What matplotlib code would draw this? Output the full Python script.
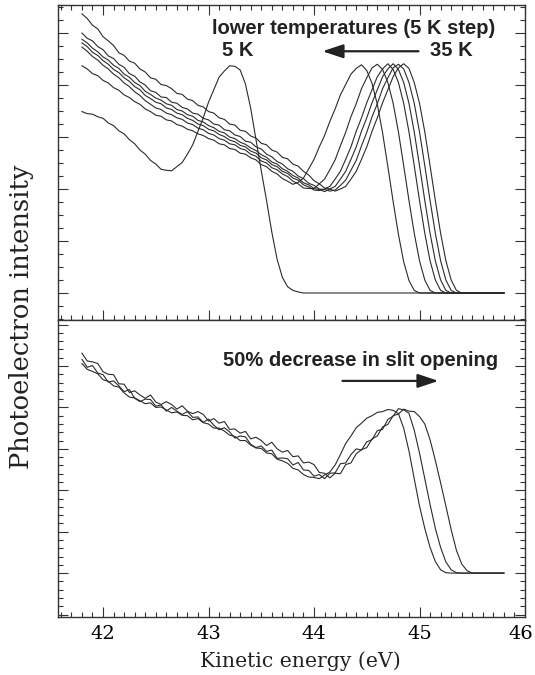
import numpy as np
import matplotlib.pyplot as plt
import matplotlib.transforms as mtransforms
from matplotlib.ticker import MultipleLocator, NullFormatter

# kinetic energy grid of the scans (eV)
energy = np.linspace(41.80, 45.80, 81)

# upper panel: spectra every 5 K, listed up to the point where the edge
# reaches the background (background level = 0)
spec_5K = [3.49, 3.45, 3.44, 3.39, 3.36, 3.27, 3.22, 3.12, 3.06, 2.95, 2.87,
           2.75, 2.67, 2.55, 2.48, 2.38, 2.36, 2.35, 2.43, 2.51, 2.67, 2.85,
           3.11, 3.37, 3.67, 3.91, 4.15, 4.27, 4.37, 4.36, 4.29, 4.02, 3.55,
           2.95, 2.35, 1.78, 1.17, 0.65, 0.30, 0.12, 0.05, 0.02, 0.0]
spec_10K = [4.37, 4.31, 4.22, 4.18, 4.09, 4.04, 3.95, 3.90, 3.81, 3.76, 3.68,
            3.63, 3.54, 3.49, 3.42, 3.40, 3.33, 3.31, 3.24, 3.21, 3.15, 3.12,
            3.06, 3.03, 2.97, 2.94, 2.87, 2.85, 2.78, 2.76, 2.69, 2.67, 2.60,
            2.56, 2.47, 2.43, 2.34, 2.29, 2.20, 2.15, 2.09, 2.13, 2.21, 2.39,
            2.57, 2.81, 3.03, 3.30, 3.54, 3.81, 4.01, 4.21, 4.32, 4.39, 4.28,
            4.03, 3.63, 3.08, 2.43, 1.76, 1.13, 0.60, 0.24, 0.05, 0.0]
spec_15K = [4.73, 4.65, 4.55, 4.48, 4.38, 4.31, 4.21, 4.14, 4.04, 3.97, 3.87,
            3.80, 3.70, 3.63, 3.56, 3.53, 3.46, 3.43, 3.37, 3.34, 3.27, 3.24,
            3.17, 3.14, 3.07, 3.04, 2.97, 2.94, 2.87, 2.85, 2.78, 2.75, 2.67,
            2.63, 2.54, 2.50, 2.41, 2.37, 2.29, 2.24, 2.15, 2.10, 2.02, 2.01,
            2.01, 2.10, 2.19, 2.37, 2.56, 2.83, 3.09, 3.39, 3.64, 3.93, 4.14,
            4.33, 4.40, 4.30, 4.05, 3.65, 3.10, 2.45, 1.78, 1.15, 0.62, 0.25,
            0.05, 0.0]
spec_20K = [4.81, 4.74, 4.63, 4.57, 4.47, 4.40, 4.30, 4.24, 4.14, 4.07, 3.97,
            3.91, 3.80, 3.74, 3.67, 3.64, 3.56, 3.53, 3.46, 3.43, 3.36, 3.32,
            3.25, 3.22, 3.15, 3.12, 3.05, 3.01, 2.94, 2.91, 2.84, 2.81, 2.73,
            2.69, 2.60, 2.56, 2.47, 2.43, 2.34, 2.30, 2.21, 2.17, 2.08, 2.04,
            1.98, 1.97, 2.00, 2.05, 2.19, 2.34, 2.57, 2.81, 3.11, 3.37, 3.66,
            3.91, 4.16, 4.31, 4.41, 4.30, 4.05, 3.65, 3.10, 2.45, 1.78, 1.15,
            0.62, 0.25, 0.05, 0.0]
spec_25K = [4.88, 4.81, 4.71, 4.64, 4.54, 4.48, 4.38, 4.32, 4.21, 4.15, 4.05,
            3.99, 3.88, 3.82, 3.75, 3.71, 3.64, 3.61, 3.53, 3.50, 3.43, 3.40,
            3.32, 3.29, 3.22, 3.18, 3.11, 3.08, 3.00, 2.97, 2.90, 2.86, 2.79,
            2.74, 2.66, 2.61, 2.52, 2.48, 2.39, 2.34, 2.26, 2.21, 2.12, 2.08,
            2.01, 1.99, 1.95, 2.00, 2.05, 2.19, 2.34, 2.57, 2.81, 3.11, 3.37,
            3.66, 3.91, 4.16, 4.31, 4.41, 4.30, 4.05, 3.65, 3.10, 2.45, 1.78,
            1.15, 0.62, 0.25, 0.05, 0.0]
spec_30K = [5.00, 4.90, 4.85, 4.74, 4.68, 4.56, 4.51, 4.40, 4.34, 4.22, 4.17,
            4.06, 4.00, 3.89, 3.86, 3.77, 3.76, 3.67, 3.65, 3.57, 3.54, 3.46,
            3.44, 3.36, 3.33, 3.25, 3.23, 3.14, 3.12, 3.04, 3.01, 2.92, 2.90,
            2.81, 2.77, 2.67, 2.62, 2.53, 2.48, 2.39, 2.34, 2.25, 2.20, 2.11,
            2.07, 2.00, 1.99, 1.96, 1.98, 2.07, 2.17, 2.36, 2.55, 2.83, 3.09,
            3.39, 3.64, 3.93, 4.14, 4.33, 4.40, 4.31, 4.05, 3.65, 3.10, 2.45,
            1.78, 1.15, 0.62, 0.25, 0.05, 0.0]
spec_35K = [5.37, 5.28, 5.15, 5.08, 4.93, 4.85, 4.76, 4.62, 4.57, 4.46, 4.42,
            4.31, 4.25, 4.14, 4.11, 4.01, 3.99, 3.93, 3.84, 3.82, 3.73, 3.70,
            3.61, 3.58, 3.49, 3.46, 3.37, 3.34, 3.25, 3.23, 3.13, 3.11, 3.02,
            2.98, 2.88, 2.85, 2.75, 2.71, 2.61, 2.58, 2.48, 2.44, 2.34, 2.27,
            2.16, 2.10, 2.02, 2.00, 1.96, 2.00, 2.05, 2.19, 2.34, 2.57, 2.81,
            3.11, 3.37, 3.66, 3.91, 4.16, 4.33, 4.41, 4.32, 4.05, 3.65, 3.10,
            2.45, 1.78, 1.15, 0.62, 0.25, 0.05, 0.0]
temp_spectra = [spec_5K, spec_10K, spec_15K, spec_20K, spec_25K, spec_30K,
                spec_35K]

# lower panel: same edge for three analyser slit openings
slit_100 = [5.06, 4.92, 4.87, 4.81, 4.67, 4.63, 4.52, 4.49, 4.35, 4.25, 4.23,
            4.16, 4.09, 4.11, 4.00, 4.01, 3.94, 3.87, 3.89, 3.81, 3.80, 3.70,
            3.73, 3.63, 3.60, 3.50, 3.50, 3.43, 3.33, 3.30, 3.20, 3.20, 3.09,
            3.02, 3.01, 2.90, 2.88, 2.75, 2.71, 2.65, 2.53, 2.49, 2.38, 2.32,
            2.31, 2.28, 2.37, 2.44, 2.61, 2.86, 3.13, 3.31, 3.51, 3.62, 3.74,
            3.80, 3.88, 3.90, 3.95, 3.93, 3.85, 3.50, 2.95, 2.28, 1.62, 1.08,
            0.62, 0.28, 0.08, 0.01, 0.0]
slit_75 = [5.16, 4.97, 5.01, 4.83, 4.79, 4.61, 4.64, 4.52, 4.38, 4.43, 4.22,
           4.14, 4.20, 4.19, 4.03, 4.06, 3.91, 4.00, 3.91, 3.83, 3.90, 3.76,
           3.77, 3.64, 3.72, 3.57, 3.46, 3.51, 3.41, 3.26, 3.31, 3.29, 3.11,
           3.03, 3.07, 2.94, 2.97, 2.77, 2.78, 2.76, 2.61, 2.67, 2.49, 2.48,
           2.34, 2.38, 2.28, 2.41, 2.42, 2.64, 2.66, 2.86, 3.00, 2.97, 3.17,
           3.22, 3.44, 3.47, 3.71, 3.79, 3.97, 3.94, 3.86, 3.45, 2.90, 2.28,
           1.66, 1.08, 0.62, 0.27, 0.08, 0.01, 0.0]
slit_50 = [5.31, 5.12, 5.10, 5.06, 4.86, 4.80, 4.79, 4.57, 4.56, 4.36, 4.40,
           4.30, 4.22, 4.30, 4.13, 4.07, 4.14, 4.07, 3.96, 4.04, 3.91, 3.85,
           3.90, 3.83, 3.67, 3.73, 3.62, 3.66, 3.47, 3.48, 3.38, 3.42, 3.24,
           3.28, 3.20, 3.08, 3.16, 3.00, 2.92, 2.96, 2.81, 2.83, 2.66, 2.68,
           2.62, 2.43, 2.41, 2.30, 2.41, 2.40, 2.62, 2.66, 2.88, 2.98, 3.03,
           3.24, 3.31, 3.53, 3.59, 3.80, 3.84, 3.96, 3.91, 3.90, 3.78, 3.60,
           3.22, 2.72, 2.18, 1.62, 1.05, 0.55, 0.22, 0.06, 0.0]
slit_spectra = [slit_100, slit_75, slit_50]

BACKGROUND = 0.0
LINE = '#2b2b2b'
INK = '#222222'
SERIF = 'DejaVu Serif'
SANS = 'Liberation Sans'


def full_scan(values):
    # spectra stay on the background after the edge, up to the scan end
    y = np.full(len(energy), BACKGROUND)
    y[:len(values)] = values
    return y


def style_axis(ax, ylim, minor_y):
    ax.set_xlim(41.573, 46.0)
    ax.set_ylim(*ylim)
    ax.xaxis.set_major_locator(MultipleLocator(1))
    ax.xaxis.set_minor_locator(MultipleLocator(0.1))
    ax.yaxis.set_major_locator(MultipleLocator(1))
    ax.yaxis.set_minor_locator(MultipleLocator(minor_y))
    ax.yaxis.set_major_formatter(NullFormatter())
    ax.tick_params(which='both', direction='in', right=True,
                   color='#333333', width=0.8)
    ax.tick_params(which='major', length=7)
    ax.tick_params(which='minor', length=3.5)
    for sp in ax.spines.values():
        sp.set_color('#333333')
        sp.set_linewidth(1.0)


fig = plt.figure(figsize=(5.35, 6.75), dpi=100)
ax_t = fig.add_axes([0.1084, 0.5259, 0.8729, 0.4667])
ax_b = fig.add_axes([0.1084, 0.0859, 0.8729, 0.4400])

for vals in temp_spectra:
    ax_t.plot(energy, full_scan(vals), color=LINE, lw=0.8)
for vals in slit_spectra:
    ax_b.plot(energy, full_scan(vals), color=LINE, lw=0.8)

style_axis(ax_t, (-0.52, 5.54), 0.25)
style_axis(ax_b, (-1.06, 6.11), 0.2)
ax_t.tick_params(which='both', top=True, labelbottom=False)
ax_b.tick_params(which='both', top=False, labelsize=14, pad=6)
for lab in ax_b.get_xticklabels():
    lab.set_family(SERIF)

# annotations
txt = dict(family=SANS, weight='bold', fontsize=14.5, color=INK)
arrow = dict(arrowstyle='-|>,head_length=0.45,head_width=0.15',
             mutation_scale=28, lw=1.6, color=INK, shrinkA=0, shrinkB=0)
ax_t.text(43.03, 5.08, 'lower temperatures (5 K step)', ha='left',
          va='center', **txt)
ax_t.text(43.28, 4.67, '5 K', ha='center', va='center', **txt)
ax_t.text(45.30, 4.67, '35 K', ha='center', va='center', **txt)
ax_t.annotate('', xy=(44.08, 4.65), xytext=(44.99, 4.65), arrowprops=arrow)
ax_b.text(43.14, 5.14, '50% decrease in slit opening', ha='left',
          va='center', **txt)
ax_b.annotate('', xy=(45.18, 4.64), xytext=(44.27, 4.64), arrowprops=arrow)

fig.text(0.041, 0.531, 'Photoelectron intensity', rotation=90, ha='center',
         va='center', family=SERIF, fontsize=18.5, color=INK)
fig.text(0.561, 0.0119, 'Kinetic energy (eV)', ha='center', va='baseline',
         family=SERIF, fontsize=14.7, color=INK)

# keep the last tick label inside the figure
fig.canvas.draw()
for tick in ax_b.xaxis.get_major_ticks():
    if abs(tick.get_loc() - 46.0) < 1e-6:
        tick.label1.set_transform(
            tick.label1.get_transform()
            + mtransforms.ScaledTranslation(-0.045, 0, fig.dpi_scale_trans))

fig.savefig('out.png', dpi=100)
